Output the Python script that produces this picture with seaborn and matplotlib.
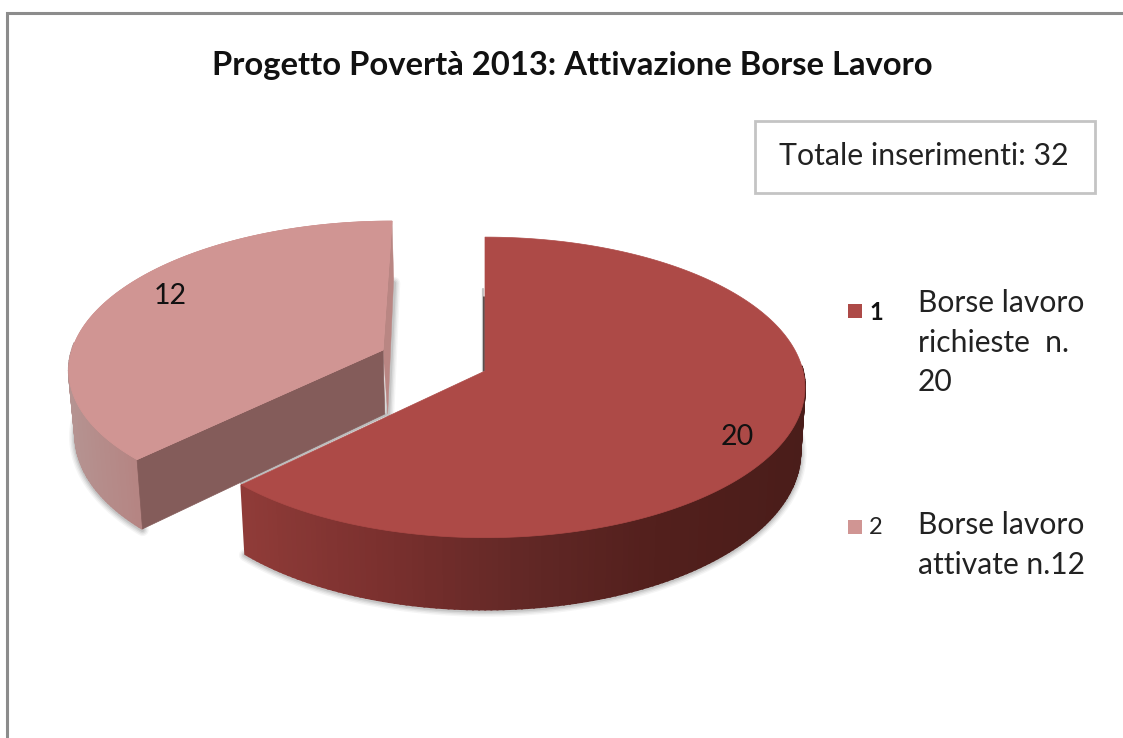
import numpy as np
import pandas as pd
import seaborn as sns
import matplotlib.pyplot as plt

# =========================================================
# 1. DATA
# =========================================================

slice_ids = ["1", "2"]
slice_values = [20, 12]
legend_lines = [["Borse lavoro", "richieste  n.", "20"], ["Borse lavoro", "attivate n.12"]]
title_text = "Progetto Povertà 2013: Attivazione Borse Lavoro"
total_text = "Totale inserimenti: 32"

top_colors = ["#ad4a47", "#d09593"]
cut_color = "#845c5a"
side_big = ["#8f3b38", "#7a302e", "#622826", "#521f1c", "#4a1d1a"]
side_small = ["#b59391", "#b58583"]

# =========================================================
# 2. PROJECTION OF THE FAKE 3D PIE
# =========================================================

K = 0.109       # perspective strength
DEPTH = 64
VANISH_X = 500


def project(theta, cx, cy, rx, ry, shear=0.0):
    """
    Angle (clockwise from 12 o'clock) to a point on the tilted top face.
    """
    scale = 1 / (1 + K * np.cos(theta))
    y = -ry * np.cos(theta) * scale
    x = rx * np.sin(theta) * scale - shear * y
    return cx + x, cy + y, scale


def extrude(x, y, scale):
    """
    Same point moved down to the bottom face.
    """
    return VANISH_X + (x - VANISH_X) * 0.985, y + DEPTH * scale


def draw_shadow(ax, xs, ys):
    for lw, alpha in [(9, 0.05), (7, 0.07), (5, 0.09), (3, 0.12)]:
        ax.plot(xs, ys, color="#404040", lw=lw, alpha=alpha, solid_capstyle="round", zorder=1)


def draw_slice(ax, start, end, geom, top, side_colors, x_range, z):
    theta = np.radians(np.arange(start, end + 0.5, 1.0))
    x, y, s = project(theta, *geom)
    bx, by = extrude(x, y, s)
    cx, cy = geom[0], geom[1]

    # soft shadow under the lower rim
    visible = np.cos(theta) < 0.1
    draw_shadow(ax, bx[visible], by[visible] + 1)

    # side wall as thin strips, shaded left to right, front part only
    palette = sns.blend_palette(side_colors, n_colors=128)
    for i in range(len(theta) - 1):
        if np.cos(theta[i]) > 0.05:
            continue
        frac = np.clip((x[i] - x_range[0]) / (x_range[1] - x_range[0]), 0, 1)
        c = palette[int(frac * 127)]
        ax.fill([x[i], x[i + 1], bx[i + 1], bx[i]], [y[i], y[i + 1], by[i + 1], by[i]],
                color=c, lw=1.4, zorder=z)

    # top face
    ax.fill(np.r_[cx, x], np.r_[cy, y], color=top, lw=0.5, zorder=z + 2)
    return x, y, s, bx, by, cx, cy


# =========================================================
# 3. FIGURE
# =========================================================

sns.set_theme(style="white")
plt.rcParams["font.family"] = ["Lato", "DejaVu Sans"]

fig = plt.figure(figsize=(11.23, 7.38), dpi=100, facecolor="white")
ax = fig.add_axes([0, 0, 1, 1])
ax.set_xlim(0, 1123)
ax.set_ylim(738, 0)
ax.axis("off")

# outer frame (only top and left are inside the crop)
ax.plot([7, 7, 1123], [738, 13, 13], color="#8c8c8c", lw=2.2, solid_joinstyle="miter")

ax.text(572, 66, title_text, ha="center", va="center", fontsize=23.6,
        fontweight="bold", color="#111111")

# total box
ax.fill([755, 1095, 1095, 755], [121, 121, 193, 193], facecolor="white",
        edgecolor="#c4c4c4", lw=2)
ax.text(924, 156, total_text, ha="center", va="center", fontsize=21.8, color="#222222")

# slices: angles come from the values
total = sum(slice_values)
sweep_big = 360 * slice_values[0] / total
geom_big = (485, 371, 318, 148.5, 0.0)
geom_small = (383, 350, 311, 143, 0.07)

# second slice goes first, the first one overlaps it
x2, y2, s2, bx2, by2, cx2, cy2 = draw_slice(ax, sweep_big, 360, geom_small, top_colors[1],
                                            side_small, (68, 135), 3)

# shadow right of the far wall
draw_shadow(ax, [x2[-1] + 2, cx2 + 5], [y2[-1] + 62, cy2 + 64])

# cut faces of the second slice
low_x, low_y = extrude(x2[0], y2[0], s2[0])
mid_x, mid_y = extrude(cx2, cy2, 1.0)
ax.fill([cx2, x2[0], low_x, mid_x], [cy2, y2[0], low_y, mid_y], color=cut_color, lw=0.5, zorder=4)
far_x, far_y = extrude(x2[-1], y2[-1], s2[-1])
ax.fill([cx2, x2[-1], far_x, mid_x + 3], [cy2, y2[-1], far_y, mid_y], color="#b98683", lw=0.3, zorder=3.5)
ax.fill(np.r_[cx2, x2], np.r_[cy2, y2], color=top_colors[1], lw=0.5, zorder=5)

x1, y1, s1, bx1, by1, cx1, cy1 = draw_slice(ax, 0, sweep_big, geom_big, top_colors[0],
                                            side_big, (245, 800), 7)

# dark seam next to the hidden wall of the first slice, light gap to the second
ax.plot([cx1 - 1, cx1 - 1], [297, cy1], color="#3b2b2a", lw=1.1, zorder=6)
ax.plot([cx1 - 2.5, cx1 - 2.5], [289, cy1], color="#c4c4c4", lw=1.6, zorder=5.5)
ax.plot([cx1 - 100, x1[-1]], [cy1 + 44, y1[-1] - 2], color="#bdbdbd", lw=2.4, zorder=3.8)

# value labels
ax.text(737, 437, str(slice_values[0]), ha="center", va="center", fontsize=20.5, color="#111111", zorder=10)
ax.text(170, 296, str(slice_values[1]), ha="center", va="center", fontsize=20.5, color="#111111", zorder=10)

# legend squares through seaborn
legend_df = pd.DataFrame({"x": [855, 855], "y": [311, 527], "id": slice_ids})
sns.scatterplot(data=legend_df, x="x", y="y", hue="id", palette=top_colors, marker="s",
                s=115, linewidth=0, legend=False, ax=ax, zorder=10)
ax.set_xlim(0, 1123)
ax.set_ylim(738, 0)
ax.axis("off")

ax.text(869, 312, slice_ids[0], ha="left", va="center", fontsize=17, fontweight="bold", color="#111111")
ax.text(869, 528, slice_ids[1], ha="left", va="center", fontsize=17, color="#222222")

for lines, y0 in zip(legend_lines, [303, 525]):
    for i, line in enumerate(lines):
        ax.text(918, y0 + i * 39.5, line, ha="left", va="center", fontsize=21.6, color="#222222")

fig.savefig("out.png", dpi=100, facecolor="white")
